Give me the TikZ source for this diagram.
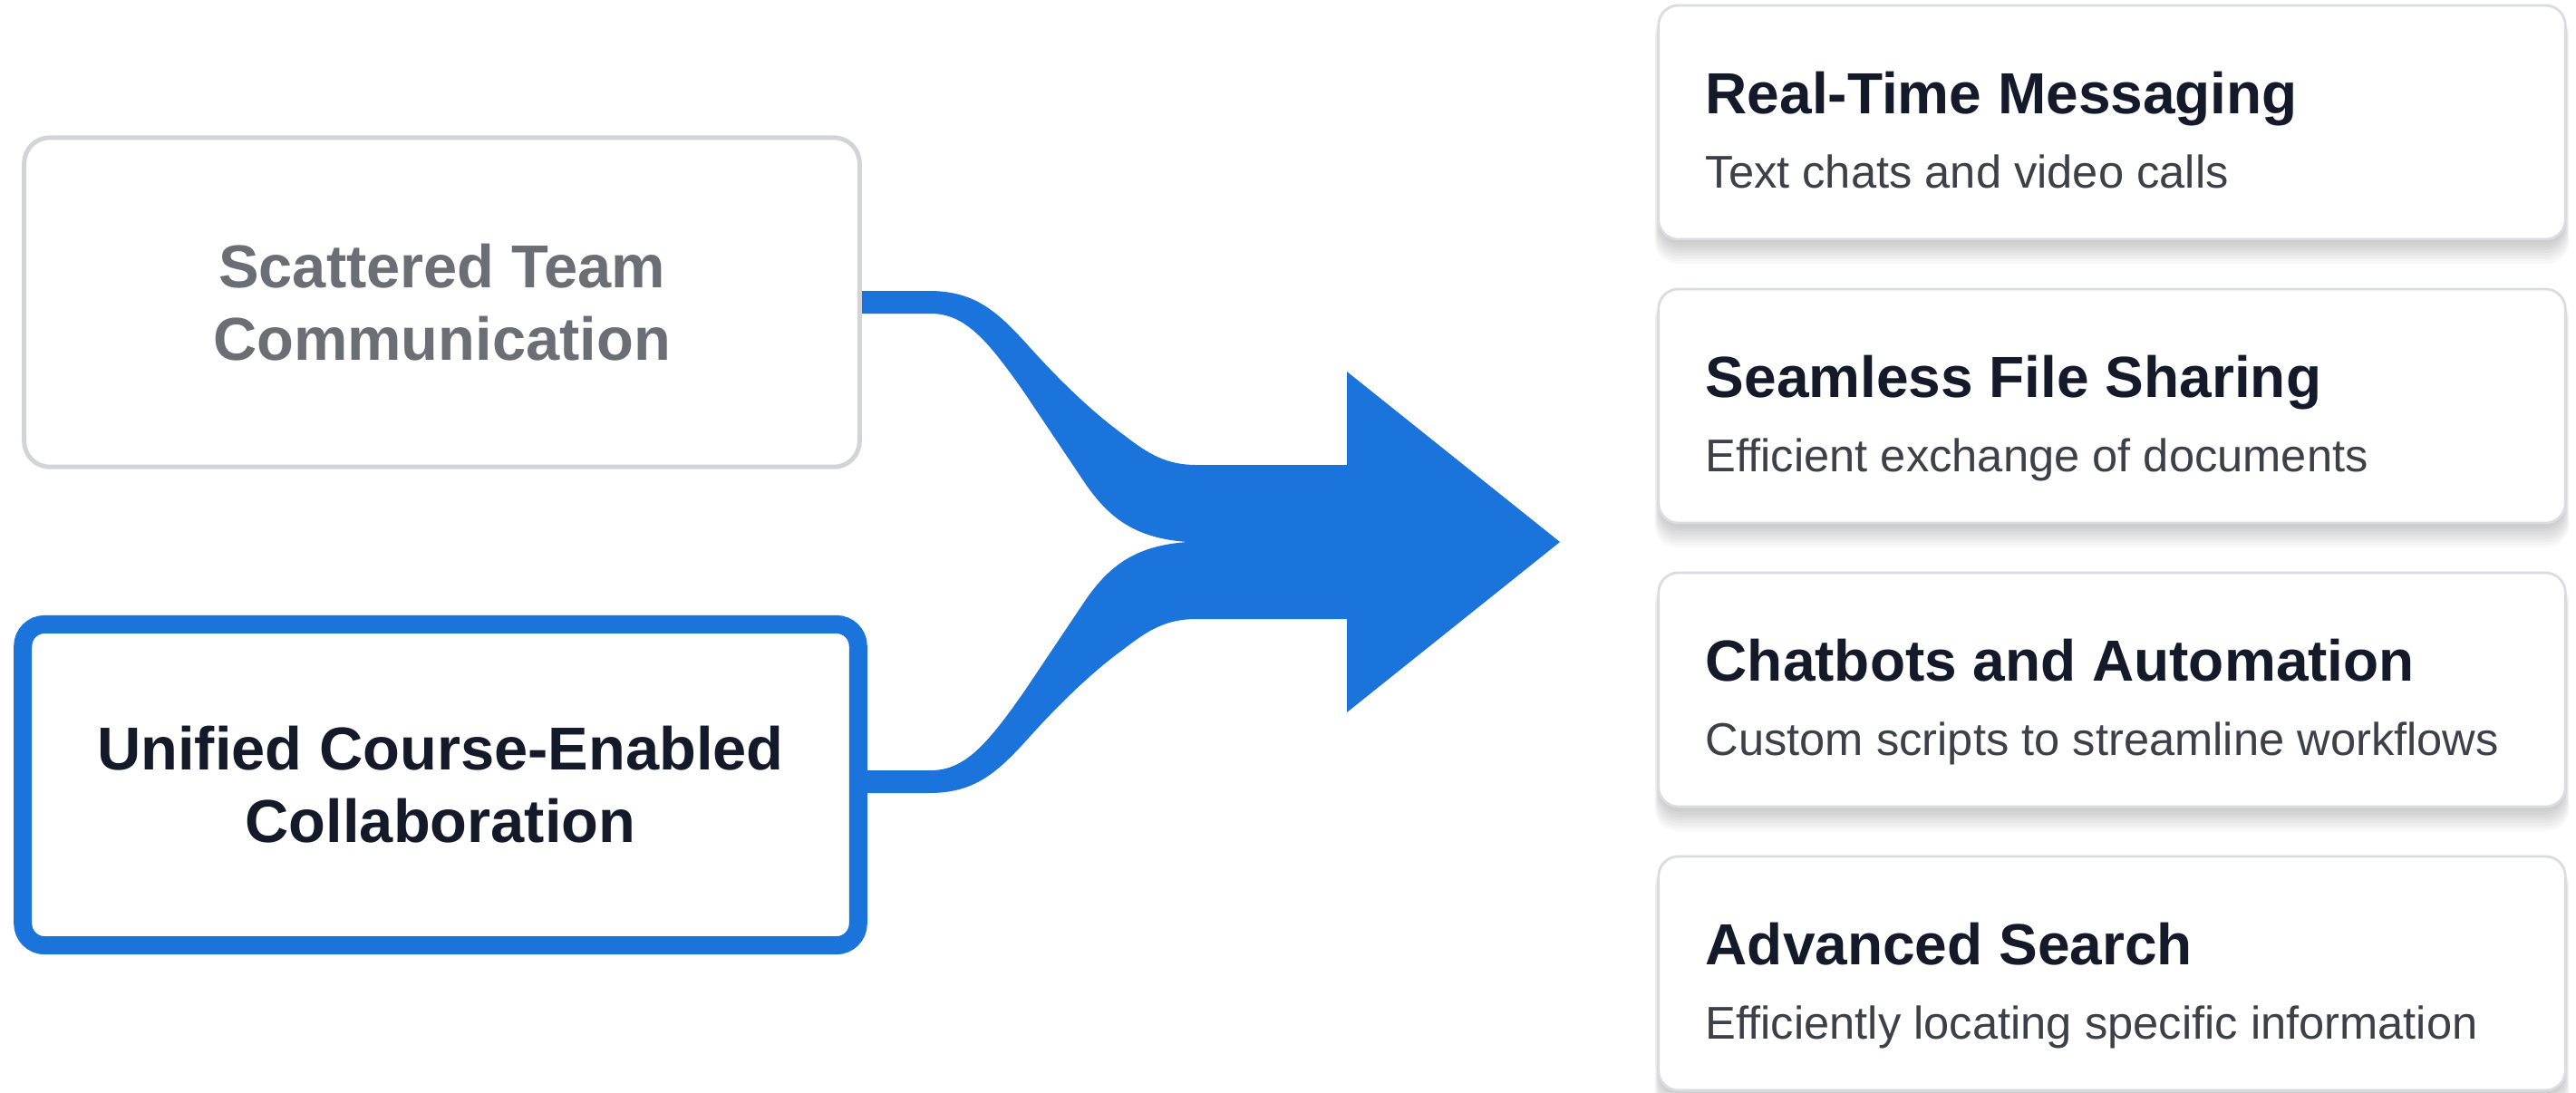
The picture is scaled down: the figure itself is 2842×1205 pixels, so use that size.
\documentclass[tikz,border=0pt]{standalone}
\usepackage{fontspec}
\setmainfont{Liberation Sans}
\definecolor{flowblue}{HTML}{1B74DB}
\definecolor{navy}{HTML}{151A2B}
\definecolor{subgray}{HTML}{3D4048}
\definecolor{mutedtext}{HTML}{6B6E74}
\definecolor{mutedline}{HTML}{D2D4D8}
\definecolor{cardline}{HTML}{DADCE0}
\tikzset{
  srcbox/.style={rounded corners=0.28cm, minimum width=9.21cm, minimum height=3.63cm,
    inner sep=0pt, align=center, fill=white,
    font=\fontsize{19pt}{22.8pt}\selectfont\bfseries},
  featcard/.style={draw=cardline, line width=0.8pt, fill=white, rounded corners=0.22cm,
    minimum width=10cm, minimum height=2.58cm, inner sep=0pt},
  cardshadow/.style={fill=black, opacity=0.022, rounded corners=0.24cm},
  cardtitle/.style={anchor=base west, inner sep=0pt, text=navy,
    font=\fontsize{18.2pt}{22pt}\selectfont\bfseries},
  carddesc/.style={anchor=base west, inner sep=0pt, text=subgray,
    font=\fontsize{14.4pt}{17pt}\selectfont},
}
\begin{document}
\begin{tikzpicture}[x=0.01cm, y=-0.01cm]
\useasboundingbox (0,0) rectangle (2842,1205);
\fill[white] (0,0) rectangle (2842,1205);

% merging arrow
\fill[flowblue]
  (950,321) -- (1025,321)
  .. controls (1075,321) and (1100,343) .. (1135,382)
  .. controls (1180,432) and (1215,462) .. (1240,480)
  .. controls (1268,502) and (1288,513) .. (1320,513)
  -- (1486,513) -- (1486,410) -- (1721,598) -- (1486,786) -- (1486,683) -- (1320,683)
  .. controls (1288,683) and (1268,694) .. (1240,716)
  .. controls (1215,734) and (1180,764) .. (1135,814)
  .. controls (1100,853) and (1075,875) .. (1025,875)
  -- (946,875) -- (946,850) -- (1027,850)
  .. controls (1065,850) and (1090,820) .. (1130,763)
  -- (1197,663)
  .. controls (1225,622) and (1255,602) .. (1310,598)
  .. controls (1255,594) and (1225,574) .. (1197,533)
  -- (1130,433)
  .. controls (1090,376) and (1065,346) .. (1027,346)
  -- (950,346) -- cycle;

% source boxes
\node[srcbox, draw=mutedline, line width=0.05cm, text=mutedtext] (scattered)
  at (487.5,333.5) {Scattered Team\\Communication};
\node[srcbox, draw=flowblue, line width=0.2cm, text=navy, minimum height=3.54cm,
  rounded corners=0.24cm] (unified)
  at (486,866) {Unified Course-Enabled\\Collaboration};

% soft shadows under the cards
\foreach \t in {6,319,632,945}{
  \foreach \k in {1,...,9}{
    \fill[cardshadow] (1831-0.6*\k,\t+8) rectangle (2829+0.6*\k,\t+258+3*\k);
  }
}

% feature cards
\node[featcard] (rtm) at (2330,135) {};
\node[featcard] (sfs) at (2330,448) {};
\node[featcard] (cba) at (2330,761) {};
\node[featcard] (adv) at (2330,1074) {};

\node[cardtitle] (rtmT) at (1881,125) {Real-Time Messaging};
\node[carddesc]  (rtmD) at (1881,207) {Text chats and video calls};
\node[cardtitle] (sfsT) at (1881,438) {Seamless File Sharing};
\node[carddesc]  (sfsD) at (1881,520) {Efficient exchange of documents};
\node[cardtitle] (cbaT) at (1881,751) {Chatbots and Automation};
\node[carddesc]  (cbaD) at (1881,833) {Custom scripts to streamline workflows};
\node[cardtitle] (advT) at (1881,1064) {Advanced Search};
\node[carddesc]  (advD) at (1881,1146) {Efficiently locating specific information};
\end{tikzpicture}
\end{document}
